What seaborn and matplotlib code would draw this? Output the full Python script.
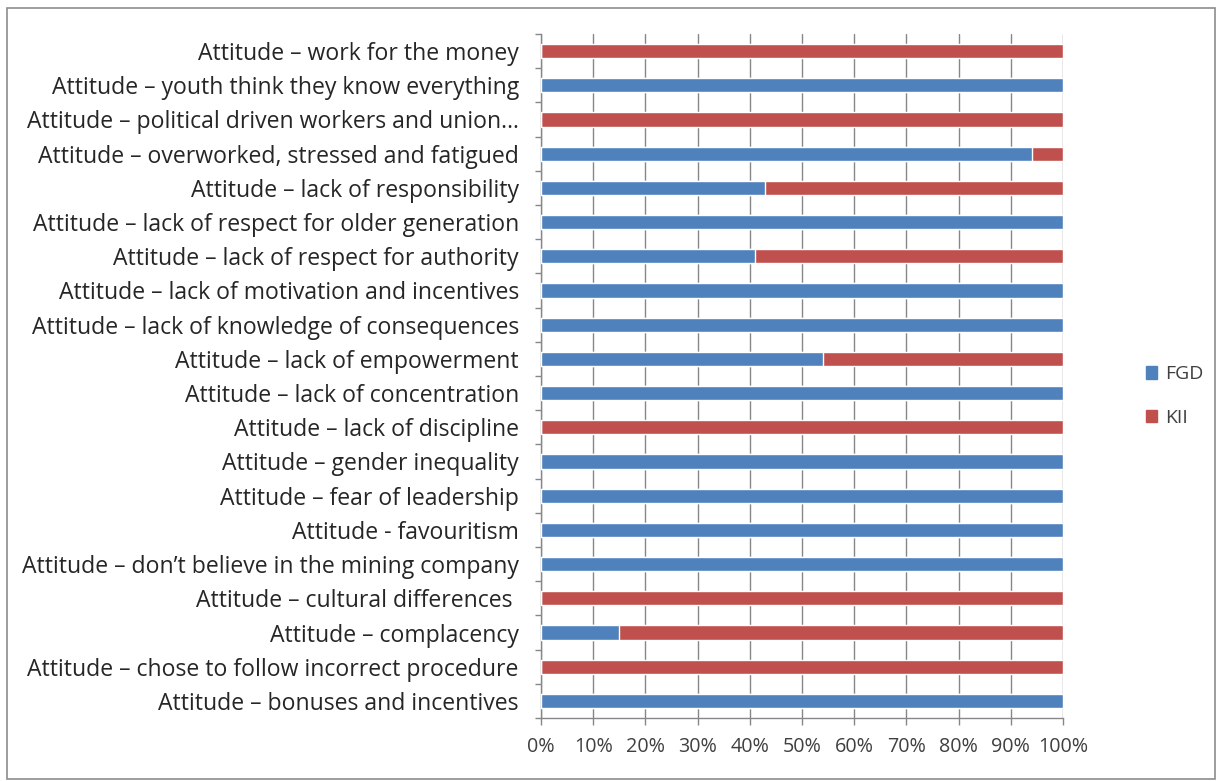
import matplotlib
matplotlib.use("Agg")
import matplotlib.pyplot as plt
import matplotlib.patches as mpatches
from matplotlib.patches import Rectangle
from matplotlib.ticker import FixedLocator, PercentFormatter
import seaborn as sns
import pandas as pd
import numpy as np

categories = [
    "Attitude \u2013 work for the money",
    "Attitude \u2013 youth think they know everything",
    "Attitude \u2013 political driven workers and union\u2026",
    "Attitude \u2013 overworked, stressed and fatigued",
    "Attitude \u2013 lack of responsibility",
    "Attitude \u2013 lack of respect for older generation",
    "Attitude \u2013 lack of respect for authority",
    "Attitude \u2013 lack of motivation and incentives",
    "Attitude \u2013 lack of knowledge of consequences",
    "Attitude \u2013 lack of empowerment",
    "Attitude \u2013 lack of concentration",
    "Attitude \u2013 lack of discipline",
    "Attitude \u2013 gender inequality",
    "Attitude \u2013 fear of leadership",
    "Attitude - favouritism",
    "Attitude \u2013 don\u2019t believe in the mining company",
    "Attitude \u2013 cultural differences ",
    "Attitude \u2013 complacency",
    "Attitude \u2013 chose to follow incorrect procedure",
    "Attitude \u2013 bonuses and incentives",
]
fgd = [0, 100, 0, 94, 43, 100, 41, 100, 100, 54, 100, 0, 100, 100, 100, 100, 0, 15, 0, 100]
kii = [100, 0, 100, 6, 57, 0, 59, 0, 0, 46, 0, 100, 0, 0, 0, 0, 100, 85, 100, 0]
x_ticks = [0, 10, 20, 30, 40, 50, 60, 70, 80, 90, 100]

BLUE = "#4F81BD"
RED = "#C0504D"
GRID = "#878787"

sns.set_style("white")
plt.rcParams["font.family"] = ["Open Sans", "DejaVu Sans"]

df = pd.DataFrame({"category": categories, "FGD": fgd, "KII": kii})
df["total"] = df["FGD"] + df["KII"]

fig = plt.figure(figsize=(12.2, 7.81), dpi=100)
ax = fig.add_axes([541 / 1220, 1 - 718 / 781, (1063 - 541) / 1220, (718 - 34) / 781])

sns.barplot(data=df, x="total", y="category", orient="h", color=RED,
            width=0.41, ax=ax, saturation=1, zorder=3)
sns.barplot(data=df, x="FGD", y="category", orient="h", color=BLUE,
            width=0.41, ax=ax, saturation=1, zorder=4)

n = len(categories)
ax.set_xlim(0, 100)
ax.set_ylim(n - 0.5, -0.5)
ax.set_xlabel("")
ax.set_ylabel("")

ax.xaxis.set_major_locator(FixedLocator(x_ticks))
ax.xaxis.set_major_formatter(PercentFormatter(decimals=0))
ax.grid(axis="x", color=GRID, linewidth=1.0, zorder=0)
ax.grid(axis="y", visible=False)
ax.set_axisbelow(True)

ax.yaxis.set_minor_locator(FixedLocator(np.arange(-0.5, n, 1.0)))
ax.tick_params(axis="y", which="major", length=0, pad=16, labelsize=16.6, labelcolor="#262626")
ax.tick_params(axis="y", which="minor", length=4, width=1, color=GRID, direction="out", left=True)
ax.tick_params(axis="x", which="major", length=5, width=1, color=GRID, direction="out",
               bottom=True, pad=9, labelsize=14.2, labelcolor="#404040")

for s in ["top", "right"]:
    ax.spines[s].set_visible(False)
for s in ["left", "bottom"]:
    ax.spines[s].set_visible(True)
    ax.spines[s].set_color(GRID)
    ax.spines[s].set_linewidth(1.0)

handles = [mpatches.Patch(color=BLUE, label="FGD"), mpatches.Patch(color=RED, label="KII")]
fig.legend(handles=handles, loc="center left", bbox_to_anchor=(1128 / 1220, 1 - 396 / 781),
           frameon=False, fontsize=14, handlelength=0.6, handleheight=0.6,
           handletextpad=0.4, labelspacing=1.3, labelcolor="#404040")

fig.patches.append(Rectangle((7 / 1220, 1 - 779 / 781), 1208 / 1220, 771 / 781,
                             transform=fig.transFigure, fill=False,
                             edgecolor="#8c8c8c", linewidth=1.2))

fig.savefig("out.png", dpi=100, facecolor="white")
